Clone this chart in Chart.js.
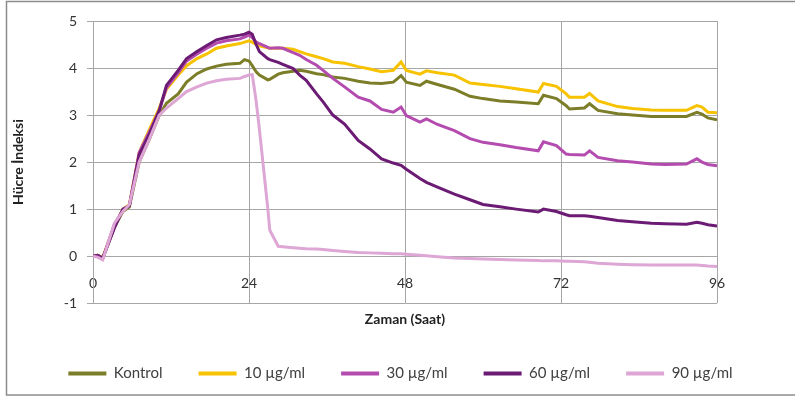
<!DOCTYPE html>
<html>
<head>
<meta charset="utf-8">
<script src="https://cdn.jsdelivr.net/npm/chart.js@4/dist/chart.umd.min.js"></script>
<style>
  html, body { margin: 0; padding: 0; background: #fff; }
  #wrap { width: 795px; height: 402px; }
</style>
</head>
<body>
<div id="wrap"><canvas id="chart"></canvas></div>
<script>
// time points (hours)
const hours = [0, 0.7, 1.5, 3.3, 4.6, 5.6, 7.1, 8.7, 10.2, 11.3, 13.1, 14.4, 16, 17.5, 19, 20.5, 22.6, 23.3, 24, 24.5,
  25.1, 25.6, 26.9, 27.2, 28.5, 29.2, 30.8, 31.8, 32.8, 34.4, 35.4, 36.9, 38.7, 40.8, 42.6, 44.4, 46.2, 47.4, 48.2, 50.3,
  51.3, 53, 55.6, 58, 60, 62.6, 65.1, 68.5, 69.3, 71.3, 72.8, 73.3, 75.6, 76.4, 77.7, 80.7, 83, 85.9, 88, 91.3,
  92.9, 93.7, 94.6, 96];

// cell index per series
const kontrol = [0, 0.02, -0.04, 0.62, 0.95, 1.05, 2.0, 2.5, 3.0, 3.25, 3.45, 3.7, 3.88, 3.98, 4.04, 4.08, 4.1, 4.18, 4.15, 4.05,
  3.92, 3.85, 3.75, 3.76, 3.87, 3.9, 3.93, 3.95, 3.93, 3.88, 3.86, 3.81, 3.78, 3.72, 3.68, 3.67, 3.7, 3.84, 3.7, 3.63,
  3.72, 3.65, 3.55, 3.4, 3.35, 3.3, 3.28, 3.24, 3.42, 3.35, 3.2, 3.13, 3.15, 3.24, 3.1, 3.03, 3.0, 2.97, 2.97, 2.97,
  3.06, 3.02, 2.94, 2.9];
const dose10 = [0, 0.02, -0.03, 0.65, 1.0, 1.1, 2.2, 2.7, 3.15, 3.55, 3.85, 4.05, 4.2, 4.3, 4.42, 4.47, 4.52, 4.55, 4.58, 4.55,
  4.5, 4.47, 4.43, 4.42, 4.42, 4.42, 4.4, 4.35, 4.3, 4.24, 4.2, 4.13, 4.1, 4.03, 3.98, 3.92, 3.95, 4.13, 3.95, 3.87,
  3.94, 3.9, 3.85, 3.68, 3.65, 3.61, 3.56, 3.49, 3.67, 3.61, 3.45, 3.38, 3.38, 3.46, 3.3, 3.18, 3.14, 3.11, 3.1, 3.1,
  3.2, 3.17, 3.06, 3.05];
const dose30 = [0, 0.02, -0.05, 0.68, 0.98, 1.08, 2.2, 2.65, 3.1, 3.58, 3.9, 4.15, 4.3, 4.42, 4.53, 4.58, 4.62, 4.66, 4.7, 4.65,
  4.55, 4.52, 4.44, 4.42, 4.43, 4.42, 4.33, 4.27, 4.18, 4.06, 3.95, 3.78, 3.6, 3.38, 3.3, 3.12, 3.06, 3.17, 2.99, 2.85,
  2.92, 2.8, 2.67, 2.5, 2.42, 2.37, 2.31, 2.24, 2.43, 2.35, 2.17, 2.16, 2.15, 2.24, 2.1, 2.03, 2.0, 1.96, 1.95, 1.96,
  2.07, 2.0, 1.95, 1.92];
const dose60 = [0, 0.02, -0.04, 0.6, 1.0, 1.07, 2.15, 2.6, 3.1, 3.63, 3.95, 4.2, 4.35, 4.48, 4.6, 4.65, 4.7, 4.72, 4.76, 4.72,
  4.5, 4.35, 4.2, 4.18, 4.12, 4.08, 3.99, 3.85, 3.74, 3.45, 3.28, 3.0, 2.81, 2.46, 2.28, 2.07, 1.98, 1.93, 1.85, 1.65,
  1.57, 1.47, 1.32, 1.2, 1.1, 1.05, 1.0, 0.94, 1.0, 0.95, 0.88, 0.86, 0.86, 0.85, 0.82, 0.76, 0.73, 0.7, 0.69, 0.68,
  0.72, 0.7, 0.67, 0.64];
const dose90 = [0, -0.02, -0.08, 0.7, 0.95, 1.1, 2.0, 2.5, 3.0, 3.15, 3.35, 3.5, 3.6, 3.68, 3.73, 3.76, 3.78, 3.82, 3.85, 3.86,
  3.3, 2.7, 1.0, 0.55, 0.21, 0.2, 0.18, 0.17, 0.16, 0.15, 0.14, 0.12, 0.1, 0.08, 0.07, 0.06, 0.05, 0.05, 0.04, 0.02,
  0.01, -0.01, -0.04, -0.05, -0.06, -0.07, -0.08, -0.09, -0.1, -0.1, -0.11, -0.11, -0.12, -0.13, -0.15, -0.17, -0.18, -0.19, -0.19, -0.19,
  -0.19, -0.2, -0.21, -0.22];

const seriesNames = ['Kontrol', '10 µg/ml', '30 µg/ml', '60 µg/ml', '90 µg/ml'];
const seriesValues = [kontrol, dose10, dose30, dose60, dose90];
const seriesColors = ['#7b7d28', '#f7c200', '#b44cb0', '#6c1b74', '#dda6d5'];

const FONT = 'Lato, "Open Sans", sans-serif';
const GRID = '#a6a6a6';

const toPoints = (vals) => vals.map((v, i) => ({ x: hours[i], y: v }));

const framePlugin = {
  id: 'frame',
  beforeDraw(chart) {
    const ctx = chart.ctx;
    ctx.save();
    ctx.fillStyle = '#fff';
    ctx.fillRect(0, 0, chart.width, chart.height);
    ctx.strokeStyle = '#8c8c8c';
    ctx.lineWidth = 1.5;
    ctx.strokeRect(6.5, 1.5, 800, 393.5);
    ctx.restore();
  }
};

new Chart(document.getElementById('chart'), {
  type: 'line',
  data: {
    datasets: seriesNames.map((name, i) => ({
      label: name,
      data: toPoints(seriesValues[i]),
      borderColor: seriesColors[i],
      backgroundColor: seriesColors[i],
      borderWidth: 3,
      pointRadius: 0,
      tension: 0,
      order: seriesNames.length - i,
      xAxisID: 'x',
      yAxisID: 'y'
    }))
  },
  options: {
    responsive: true,
    maintainAspectRatio: false,
    animation: false,
    layout: {
      padding: { left: 6, right: 0, top: 21, bottom: 11 }
    },
    plugins: {
      tooltip: { enabled: false },
      legend: {
        position: 'bottom',
        labels: {
          boxWidth: 38,
          boxHeight: 4,
          padding: 36,
          color: '#404040',
          font: { family: FONT, size: 15 },
          generateLabels(chart) {
            const items = Chart.defaults.plugins.legend.labels.generateLabels(chart);
            items.forEach(it => { it.lineWidth = 0; it.fillStyle = it.strokeStyle; });
            return items.sort((a, b) => a.datasetIndex - b.datasetIndex);
          }
        }
      }
    },
    scales: {
      x: {
        type: 'linear',
        position: { y: 0 },
        min: 0,
        max: 96,
        grid: { color: GRID, drawTicks: false },
        border: { color: GRID },
        ticks: {
          stepSize: 24,
          padding: 19,
          color: '#333',
          font: { family: FONT, size: 14 },
          maxRotation: 0
        }
      },
      x2: {
        type: 'linear',
        position: 'bottom',
        min: 0,
        max: 96,
        grid: { display: false },
        border: { display: false },
        ticks: { display: false },
        title: {
          display: true,
          text: 'Zaman (Saat)',
          color: '#222',
          font: { family: FONT, size: 14, weight: 'bold' },
          padding: { top: 0, bottom: 2 }
        }
      },
      y: {
        min: -1,
        max: 5,
        grid: { color: GRID, tickLength: 6 },
        border: { color: GRID },
        ticks: {
          stepSize: 1,
          padding: 10,
          color: '#333',
          font: { family: FONT, size: 14 }
        },
        title: {
          display: true,
          text: 'Hücre İndeksi',
          color: '#222',
          font: { family: FONT, size: 14, weight: 'bold' },
          padding: { top: 4, bottom: 0 }
        },
        afterFit(scale) { scale.width = 87; }
      },
      // empty right-hand margin axis
      y2: {
        position: 'right',
        min: -1,
        max: 5,
        grid: { display: false },
        border: { display: false },
        ticks: { display: false },
        afterFit(scale) { scale.width = 78; }
      }
    }
  },
  plugins: [framePlugin]
});
</script>
</body>
</html>
